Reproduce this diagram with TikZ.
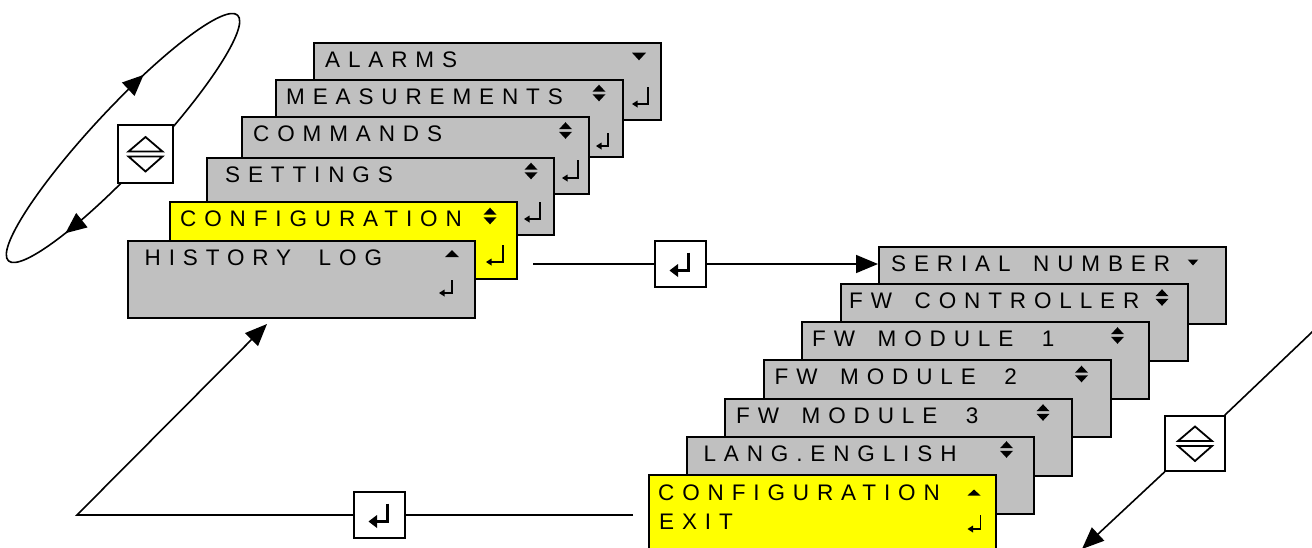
\documentclass[tikz,border=0pt]{standalone}
\usepackage{fontspec}
\setmainfont{Liberation Sans}
\newfontfamily\lcdfont[LetterSpace=35,WordSpace=1.6]{Liberation Sans}
\usetikzlibrary{arrows.meta,decorations.markings}

\definecolor{menugray}{HTML}{C0C0C0}
\definecolor{lcdyellow}{HTML}{FFFF00}

\tikzset{
  menu/.style={draw=black, line width=1.8pt, fill=menugray, minimum width=347pt,
    minimum height=77pt, inner sep=0pt, anchor=north west},
  menuhl/.style={menu, fill=lcdyellow},
  lcd/.style={font=\lcdfont\fontsize{22.5}{26}\selectfont, anchor=base west, inner sep=0pt},
  keybox/.style={draw=black, fill=white, line width=1.6pt, inner sep=0pt,
    minimum width=51pt, minimum height=46pt},
  navbox/.style={draw=black, fill=white, line width=1.6pt, inner sep=0pt},
  conn/.style={line width=1.6pt},
  bighead/.style={-{Triangle[length=22pt,width=18pt]}},
  % thin return glyph: #1 = width, #2 = height, origin at top of the stroke
  pics/ret/.style 2 args={code={
    \draw[line width=1.6pt] (0,0) -- (0,#2) -- (-#1+4,#2);
    \fill (-#1,#2) -- (-#1+5.5,#2-3.5) -- (-#1+5.5,#2+3.5) -- cycle;}},
  % bold return glyph inside a key box
  pics/bigret/.style={code={
    \draw[line width=3pt] (8,-11.5) -- (8,6.5) -- (-4,6.5);
    \fill (-11,6.5) -- (-2.5,0) -- (-2.5,13) -- cycle;}},
  % scroll indicator: filled up and down triangles
  pics/updn/.style={code={
    \fill (-6.5,-1.3) -- (0,-8.3) -- (6.5,-1.3) -- cycle;
    \fill (-6.5,1.3) -- (0,8.3) -- (6.5,1.3) -- cycle;}},
  pics/tridn/.style 2 args={code={\fill (-#1,-#2) -- (#1,-#2) -- (0,#2) -- cycle;}},
  pics/triup/.style 2 args={code={\fill (-#1,#2) -- (#1,#2) -- (0,-#2) -- cycle;}},
  % hollow up/down navigation symbol
  pics/navsym/.style={code={
    \draw[line width=1.8pt] (-17,-2.5) -- (0,-17) -- (17,-2.5) -- cycle;
    \draw[line width=1.8pt] (-17,2.5) -- (0,17.5) -- (17,2.5) -- cycle;}},
}

\begin{document}
\begin{tikzpicture}[x=1pt,y=-1pt]
\useasboundingbox (0,0) rectangle (1312,547);
\clip (0,0) rectangle (1312,547);

% ---------- main menu stack ----------
\node[menu] (alarms) at (313,42) {};
\node[lcd] (alarmsT) at (325,67.5) {ALARMS};
\pic at (639,56.5) {tridn={7}{3.8}};
\pic at (648,87) {ret={16}{17}};

\node[menu] (meas) at (275,79) {};
\node[lcd] (measT) at (286,104.5) {MEASUREMENTS};
\pic at (599,93) {updn};
\pic at (608,133) {ret={12}{13}};

\node[menu] (cmds) at (241,116) {};
\node[lcd] (cmdsT) at (253,141.5) {COMMANDS};
\pic at (565.5,130.5) {updn};
\pic at (578,160) {ret={16}{18}};

\node[menu] (sett) at (206,157) {};
\node[lcd] (settT) at (225,182.5) {SETTINGS};
\pic at (531,171) {updn};
\pic at (540,202) {ret={16}{17}};

\node[menuhl] (conf) at (169,201) {};
\node[lcd] (confT) at (180,226.5) {CONFIGURATION};
\pic at (490,216) {updn};
\pic at (503,245) {ret={17}{17}};

\node[menu] (hist) at (127,240) {};
\node[lcd] (histT) at (144.5,265.5) {HISTORY\kern5pt{} LOG};
\pic at (452,253.5) {triup={7}{3.5}};
\pic at (452,280) {ret={13}{13}};

% ---------- configuration sub-menu stack ----------
\node[menu] (ser) at (878,246) {};
\node[lcd] (serT) at (891,271.5) {SERIAL NUMBER};
\pic at (1193,262.5) {tridn={5.3}{3}};

\node[menu] (fwc) at (840,283) {};
\node[lcd] (fwcT) at (849,308.5) {FW CONTROLLER};
\pic at (1162,297.5) {updn};

\node[menu] (fwa) at (801,321) {};
\node[lcd] (fwaT) at (812,346.5) {FW MODULE\kern6pt{} 1};
\pic at (1117.5,335.5) {updn};

\node[menu] (fwb) at (763,359) {};
\node[lcd] (fwbT) at (774.5,384.5) {FW MODULE\kern6pt{} 2};
\pic at (1081.5,374) {updn};

\node[menu] (fwm) at (724,398) {};
\node[lcd] (fwmT) at (736,423.5) {FW MODULE\kern6pt{} 3};
\pic at (1043,412.5) {updn};

\node[menu] (lang) at (686,436) {};
\node[lcd] (langT) at (703.4,461.5) {LANG.ENGLISH};
\pic at (1006.5,449.5) {updn};

\node[menuhl] (exit) at (648,474) {};
\node[lcd] (exitT1) at (658,500.5) {CONFIGURATION};
\node[lcd] (exitT2) at (659,529.3) {EXIT};
\pic at (974,492.5) {triup={6.5}{3}};
\pic at (980.5,515) {ret={13}{14}};

% ---------- enter: into the sub-menu ----------
\coordinate (fromConf) at (533,264);
\node[keybox] (ent1) at (680.5,264) {};
\pic at (ent1) {bigret};
\draw[conn] (fromConf) -- (ent1);
\draw[conn, bighead] (ent1) -- (ent1 -| ser.west);

% ---------- enter: back to the main menu ----------
\coordinate (fromExit) at (633,515);
\coordinate (turn) at (77,515);
\coordinate (backTip) at (267,324);
\node[keybox] (ent2) at (379.5,515) {};
\pic at (ent2) {bigret};
\draw[conn] (fromExit) -- (ent2);
\draw[conn, bighead, line join=miter] (ent2) -- (turn) -- (backTip);

% ---------- scrolling through the main menu ----------
\begin{scope}[shift={(123,138)}, x={(0.682pt,0.731pt)}, y={(0.731pt,-0.682pt)}]
  \draw[conn, postaction={decorate}, decoration={markings,
      mark=at position 0.406 with {\arrow{Triangle[length=21pt,width=18pt]}},
      mark=at position 0.836 with {\arrow{Triangle[length=21pt,width=18pt]}}}]
    (0,0) ellipse [x radius=168, y radius=30];
\end{scope}
\node[navbox, minimum width=55pt, minimum height=58pt] (navL) at (145.5,154) {};
\pic at (navL) {navsym};

% ---------- scrolling through the sub-menu ----------
\coordinate (scrollIn) at (1331,314);
\coordinate (scrollTip) at (1082,549);
\node[navbox, minimum width=60pt, minimum height=55pt] (navR) at (1195,443.5) {};
\pic at (navR) {navsym};
\draw[conn] (scrollIn) -- (navR);
\draw[conn, bighead] (navR) -- (scrollTip);
\end{tikzpicture}
\end{document}
